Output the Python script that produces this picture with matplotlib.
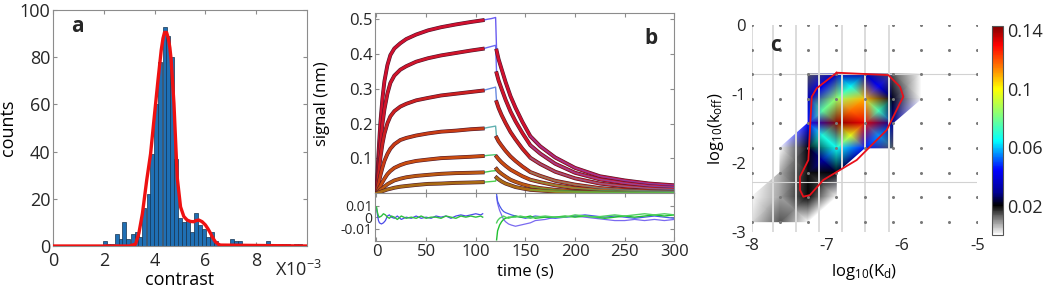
import numpy as np
import matplotlib.pyplot as plt
import matplotlib.tri as mtri
import matplotlib.patheffects as pe
from matplotlib.colors import LinearSegmentedColormap

plt.rcParams['font.family'] = ['Open Sans', 'DejaVu Sans']
plt.rcParams['mathtext.fontset'] = 'custom'
plt.rcParams['mathtext.rm'] = 'Open Sans'
plt.rcParams['mathtext.it'] = 'Open Sans:italic'
plt.rcParams['text.color'] = '#262626'
plt.rcParams['xtick.color'] = '#262626'
plt.rcParams['ytick.color'] = '#262626'

# ---------------- panel a: contrast histogram
bin_centers = [2.03, 2.18, 2.34, 2.50, 2.66, 2.81, 2.97, 3.13, 3.29, 3.44,
               3.60, 3.76, 3.91, 4.07, 4.23, 4.39, 4.54, 4.70, 4.86, 5.01,
               5.17, 5.33, 5.48, 5.64, 5.80, 5.96, 6.11, 6.27, 6.43, 6.58,
               6.74, 6.90, 7.05, 7.21, 7.37, 7.53, 7.68, 7.84, 8.00, 8.15,
               8.31, 8.47, 8.62, 8.78, 8.94, 9.10, 9.25, 9.41, 9.57, 9.72, 9.88]
counts = [2, 1, 1, 5, 3, 10, 3, 5, 6, 4,
          16, 22, 39, 60, 78, 93, 89, 80, 37, 12,
          10, 11, 6, 14, 9, 7, 4, 6, 2, 1,
          1, 1, 3, 2, 2, 1, 1, 0, 1, 1,
          0, 2, 1, 0, 1, 1, 1, 0, 1, 1, 0]
fit_x = [0, 3.0, 3.25, 3.38, 3.52, 3.69, 3.84, 3.97, 4.13, 4.26, 4.33, 4.39,
         4.47, 4.54, 4.60, 4.65, 4.76, 4.89, 5.02, 5.15, 5.28, 5.41, 5.54,
         5.64, 5.74, 5.87, 6.0, 6.1, 6.2, 6.3, 6.39, 6.5, 6.59, 10]
fit_y = [0, 0, 0.8, 5.4, 13.8, 28, 39, 53, 70, 83, 88, 90.5,
         90.5, 88, 84, 79, 60.5, 29, 16.6, 12.5, 11, 10.4, 10.3,
         10.8, 11, 10.3, 8.9, 7.3, 5.4, 3.3, 1.8, 0.8, 0.4, 0]

# ---------------- panel b: sensorgrams
t_assoc = [0, 1, 2, 3, 4, 6, 8, 11, 14, 18, 24, 30, 40, 52, 65, 80, 95, 107]
assoc = [
    [0, 0.060, 0.112, 0.160, 0.205, 0.272, 0.322, 0.368, 0.397, 0.416, 0.431, 0.443, 0.456, 0.468, 0.477, 0.485, 0.492, 0.497],
    [0, 0.042, 0.079, 0.112, 0.145, 0.199, 0.241, 0.286, 0.317, 0.338, 0.355, 0.365, 0.378, 0.388, 0.396, 0.403, 0.410, 0.415],
    [0, 0.027, 0.053, 0.080, 0.103, 0.142, 0.171, 0.201, 0.221, 0.236, 0.249, 0.257, 0.267, 0.274, 0.281, 0.286, 0.291, 0.295],
    [0, 0.013, 0.026, 0.039, 0.052, 0.074, 0.093, 0.113, 0.128, 0.141, 0.153, 0.159, 0.166, 0.172, 0.177, 0.180, 0.184, 0.186],
    [0, 0.005, 0.011, 0.016, 0.021, 0.032, 0.042, 0.055, 0.064, 0.073, 0.081, 0.087, 0.093, 0.097, 0.101, 0.103, 0.105, 0.107],
    [0, 0.002, 0.005, 0.007, 0.010, 0.014, 0.019, 0.026, 0.031, 0.037, 0.042, 0.046, 0.050, 0.053, 0.056, 0.058, 0.059, 0.060],
    [0, 0.001, 0.002, 0.003, 0.004, 0.006, 0.008, 0.011, 0.013, 0.016, 0.019, 0.021, 0.024, 0.027, 0.028, 0.030, 0.031, 0.032],
]
t_bridge = [107, 112, 116, 120]
bridge = [
    [0.497, 0.500, 0.502, 0.505],
    [0.415, 0.419, 0.422, 0.425],
    [0.295, 0.299, 0.302, 0.305],
    [0.186, 0.189, 0.191, 0.193],
    [0.107, 0.109, 0.110, 0.111],
    [0.060, 0.062, 0.064, 0.065],
    [0.032, 0.033, 0.034, 0.035],
]
t_dissoc = [121, 123, 126, 130, 135, 140, 147, 155, 165, 180, 200, 225, 250, 275, 300]
dissoc = [
    [0.410, 0.385, 0.357, 0.320, 0.279, 0.246, 0.205, 0.164, 0.135, 0.103, 0.073, 0.049, 0.037, 0.028, 0.023],
    [0.345, 0.324, 0.300, 0.269, 0.235, 0.207, 0.173, 0.138, 0.114, 0.085, 0.059, 0.040, 0.029, 0.021, 0.017],
    [0.262, 0.245, 0.225, 0.202, 0.176, 0.155, 0.128, 0.102, 0.084, 0.062, 0.043, 0.028, 0.020, 0.014, 0.011],
    [0.160, 0.149, 0.137, 0.122, 0.106, 0.093, 0.077, 0.061, 0.050, 0.036, 0.025, 0.015, 0.010, 0.007, 0.006],
    [0.105, 0.098, 0.089, 0.079, 0.068, 0.060, 0.049, 0.039, 0.032, 0.023, 0.015, 0.009, 0.006, 0.004, 0.003],
    [0.070, 0.063, 0.056, 0.048, 0.039, 0.033, 0.026, 0.020, 0.015, 0.010, 0.006, 0.004, 0.002, 0.001, 0.001],
    [0.045, 0.040, 0.034, 0.028, 0.023, 0.018, 0.014, 0.010, 0.008, 0.005, 0.003, 0.002, 0.001, 0.001, 0.001],
]
fit_colors = ['#d0102e', '#d0142a', '#cc2020', '#c83c14', '#c84c10', '#bc5a12', '#aa6a14']
raw_colors = ['#6a5cf0', '#6a6af0', '#6a8ae0', '#60b0b0', '#50c870', '#40c850', '#50d050']

# residuals (x 0.001)
res_t_assoc = [0, 1, 2, 3, 5, 7, 9, 11, 13, 15, 18, 21, 25, 30, 35, 40, 45, 50,
               55, 60, 65, 70, 75, 80, 85, 90, 95, 100, 105, 107]
res_assoc_blue = [8, 2, -3, -5, -6, -5, -3, 1, 2, 0, -1, 1, -2, 0, -1, 1, -1, 0,
                  -1, 1, 0, 1, -1, 1, 2, 1, 2, 3, 2, 3]
res_assoc_green = [9, 4, 1, 0, 1, 3, 2, 0, -1, 1, 0, -2, 1, -1, 0, -1, 1, -1,
                   0, 0, -1, 1, 0, -1, 1, 0, 1, 0, 1, 0]
res_t_dissoc = [121, 122, 124, 126, 128, 130, 133, 136, 140, 145, 150, 155, 160, 170,
                180, 190, 200, 210, 220, 230, 240, 250, 260, 270, 280, 290, 300]
res_dissoc_blue1 = [18, 12, 6, 2, -2, -4, -6, -7, -8, -7, -6, -5, -3, -2,
                    0, 0, 1, 0, -1, -2, -3, -3, -2, -3, -2, -3, -2]
res_dissoc_blue2 = [20, 14, 10, 7, 5, 4, 3, 2, 1, 0, -1, 0, 1, 0,
                    -1, 0, 1, 2, 1, 0, 1, 0, -1, 0, 1, 0, -1]
res_dissoc_green1 = [-20, -12, -7, -4, -2, -1, 0, 0, 1, 0, 0, 1, -1, 0,
                     0, 1, 0, 1, 0, -1, 0, 1, 0, 1, 2, 1, 2]
res_dissoc_green2 = [-5, -3, -1, 0, 1, 0, -1, 0, 0, 1, 0, -1, 0, 1,
                     0, 0, 2, 1, 0, 1, 2, 1, 2, 3, 2, 3, 2]

# ---------------- panel c: rate-constant map
log_kd = [-8, -7.625, -7.25, -6.875, -6.5, -6.125, -5.75, -5.375, -5]
log_koff = [0, -0.36, -0.71, -1.07, -1.42, -1.78, -2.14, -2.49, -2.85]
nan = np.nan
density = [
    [nan, nan, nan, nan, nan, nan, nan, nan, nan],
    [nan, nan, nan, nan, nan, nan, nan, nan, nan],
    [nan, nan, 0.014, 0.035, 0.032, 0.014, 0.0, nan, nan],
    [nan, nan, 0.035, 0.085, 0.108, 0.022, 0.0, nan, nan],
    [nan, nan, 0.045, 0.142, 0.132, 0.030, nan, nan, nan],
    [nan, 0.0, 0.021, 0.066, 0.046, 0.014, nan, nan, nan],
    [nan, 0.007, 0.019, 0.021, nan, nan, nan, nan, nan],
    [0.0, 0.008, 0.020, 0.0, nan, nan, nan, nan, nan],
    [0.003, 0.014, 0.0, nan, nan, nan, nan, nan, nan],
]
contour_kd = [-6.870, -6.184, -6.028, -5.984, -6.028, -6.205, -6.604, -6.826,
              -7.048, -7.225, -7.314, -7.358, -7.358, -7.247, -7.202, -7.136, -6.870]
contour_koff = [-0.691, -0.725, -0.894, -1.039, -1.130, -1.522, -1.957, -2.101,
                -2.246, -2.464, -2.488, -2.391, -2.199, -1.957, -1.039, -0.917, -0.691]
stripe_kd = [-8.0, -7.72, -7.41, -7.11, -6.80, -6.49, -6.18]
band_koff = [-0.71, -2.27]

cmap = LinearSegmentedColormap.from_list('grayjet', [
    (0.0, '#ffffff'), (0.07, '#8a8a8a'), (0.14, '#000000'), (0.20, '#00008f'),
    (0.31, '#0000ff'), (0.45, '#00ffff'), (0.57, '#80ff80'), (0.70, '#ffff00'),
    (0.80, '#ff8000'), (0.91, '#ff0000'), (1.0, '#800000')])

fig = plt.figure(figsize=(10.5, 2.91), dpi=100)
spine_col = '#8c8c8c'

# ---- a
ax = fig.add_axes([0.0505, 0.1546, 0.2419, 0.811])
ax.bar(bin_centers, counts, width=0.157, color='#1f6fb4', edgecolor='#16324f', linewidth=0.5, zorder=2)
ax.plot(fit_x, fit_y, color='#ee1111', lw=2.4, zorder=3)
ax.set_xlim(0, 10)
ax.set_ylim(0, 100)
ax.set_xticks([0, 2, 4, 6, 8])
ax.set_yticks([0, 20, 40, 60, 80, 100])
ax.tick_params(direction='in', top=True, right=True, labelsize=13, length=3, color=spine_col, pad=2)
ax.tick_params(axis='x', pad=4)
for s in ax.spines.values():
    s.set_color(spine_col)
ax.set_ylabel('counts', fontsize=13, labelpad=2)
ax.set_xlabel('contrast', fontsize=13, labelpad=1)
ax.text(0.965, -0.1, 'X10$^{-3}$', transform=ax.transAxes, fontsize=13, ha='center', va='center')
ax.text(0.07, 0.93, 'a', transform=ax.transAxes, fontsize=15, fontweight='bold', va='center')

# ---- b
axb = fig.add_axes([0.3576, 0.3357, 0.2846, 0.6186])
axr = fig.add_axes([0.3576, 0.1718, 0.2846, 0.1639], sharex=axb)
stroke = [pe.withStroke(linewidth=2.8, foreground='#4a1830')]
for i in range(7):
    raw_t = t_assoc + t_bridge[1:] + t_dissoc
    raw_v = assoc[i] + bridge[i][1:] + dissoc[i]
    axb.plot(raw_t, raw_v, color=raw_colors[i], lw=1.0, zorder=2)
    axb.plot(t_assoc, assoc[i], color=fit_colors[i], lw=2.0, zorder=3, path_effects=stroke)
    axb.plot(t_dissoc, dissoc[i], color=fit_colors[i], lw=2.0, zorder=3, path_effects=stroke)
    axb.plot(t_dissoc[7:], dissoc[i][7:], color=raw_colors[i], lw=1.0, alpha=0.55, zorder=4)
axb.set_ylim(0, 0.517)
axb.set_yticks([0.1, 0.2, 0.3, 0.4, 0.5])
axb.set_yticklabels(['0.1', '0.2', '0.3', '0.4', '0.5'])
axb.tick_params(direction='in', top=True, right=True, labelsize=12, length=3,
                color=spine_col, labelbottom=False, pad=2)
axb.set_ylabel('signal (nm)', fontsize=12, labelpad=14)
axb.text(0.9, 0.86, 'b', transform=axb.transAxes, fontsize=15, fontweight='bold', va='center')

rs = 0.001
axr.plot(res_t_assoc, np.array(res_assoc_blue) * rs, color='#4a4ae8', lw=0.9)
axr.plot(res_t_assoc, np.array(res_assoc_green) * rs, color='#30c040', lw=1.0)
axr.plot(res_t_dissoc, np.array(res_dissoc_blue1) * rs, color='#7a6af0', lw=0.9)
axr.plot(res_t_dissoc, np.array(res_dissoc_blue2) * rs, color='#4a5ae8', lw=0.9)
axr.plot(res_t_dissoc, np.array(res_dissoc_green1) * rs, color='#20c030', lw=1.0)
axr.plot(res_t_dissoc, np.array(res_dissoc_green2) * rs, color='#50d060', lw=1.0)
axr.set_xlim(-1, 300)
axr.set_ylim(-0.021, 0.021)
axr.set_yticks([-0.01, 0, 0.01])
axr.set_yticklabels(['-0.01', '0', '0.01'])
axr.set_xticks([0, 50, 100, 150, 200, 250, 300])
axr.tick_params(direction='in', top=True, right=True, labelsize=12, length=3, color=spine_col, pad=2)
axr.tick_params(axis='y', labelsize=10)
axr.set_xlabel('time (s)', fontsize=12, labelpad=3)
for a in (axb, axr):
    for s in a.spines.values():
        s.set_color(spine_col)

# ---- c
axc = fig.add_axes([0.7159, 0.2027, 0.2149, 0.7113])
Z = np.array(density, float)
nr, nc = Z.shape
px, py, pv, tris = [], [], [], []
for r in range(nr):
    for c in range(nc):
        px.append(log_kd[c])
        py.append(log_koff[r])
        pv.append(0.0 if np.isnan(Z[r, c]) else Z[r, c])
for r in range(nr - 1):
    for c in range(nc - 1):
        corners = [r * nc + c, r * nc + c + 1, (r + 1) * nc + c + 1, (r + 1) * nc + c]
        ok = [not np.isnan(Z.flat[k]) for k in corners]
        if all(ok):
            # split the cell through its centre, like a shaded surface
            m = len(px)
            px.append(np.mean([px[k] for k in corners]))
            py.append(np.mean([py[k] for k in corners]))
            pv.append(np.mean([pv[k] for k in corners]))
            for k in range(4):
                tris.append([corners[k], corners[(k + 1) % 4], m])
        elif sum(ok) == 3:
            tris.append([k for k, o in zip(corners, ok) if o])
tri = mtri.Triangulation(px, py, tris)
mesh = axc.tripcolor(tri, pv, shading='gouraud', cmap=cmap, vmin=0, vmax=0.143, zorder=1)
for x in stripe_kd:
    axc.axvline(x, color='#dcdcdc', lw=1.4, zorder=2)
for y in band_koff:
    axc.axhline(y, color='#d2d2d2', lw=0.8, zorder=2)
KD, KO = np.meshgrid(log_kd, log_koff)
axc.plot(KD.ravel(), KO.ravel(), 'o', color='#7a7a7a', ms=2.2, mew=0, zorder=3)
axc.plot(contour_kd, contour_koff, color='#e8101a', lw=1.3, zorder=4)
axc.set_xlim(-8, -5)
axc.set_ylim(-3, 0)
axc.set_xticks([-8, -7, -6, -5])
axc.set_xticklabels(['-8', '-7', '-6', '-5'])
axc.set_yticks([-3, -2, -1, 0])
axc.set_yticklabels(['-3', '-2', '-1', '0'])
axc.tick_params(length=0, labelsize=12, pad=4)
for s in axc.spines.values():
    s.set_visible(False)
axc.set_xlabel(r'$\mathrm{log_{10}(K_d)}$', fontsize=12, labelpad=6)
axc.set_ylabel(r'$\mathrm{log_{10}(k_{off})}$', fontsize=12, labelpad=4)
axc.text(-7.75, -0.3, 'c', fontsize=15, fontweight='bold', va='center', zorder=5)

cax = fig.add_axes([0.9448, 0.1924, 0.0105, 0.7182])
cb = fig.colorbar(mesh, cax=cax, ticks=[0.02, 0.06, 0.1, 0.14])
cb.ax.set_yticklabels(['0.02', '0.06', '0.1', '0.14'])
cb.ax.tick_params(length=0, labelsize=13, pad=3)
cb.outline.set_linewidth(0.8)
cb.outline.set_edgecolor('#555555')

fig.savefig('out.png', dpi=100)
